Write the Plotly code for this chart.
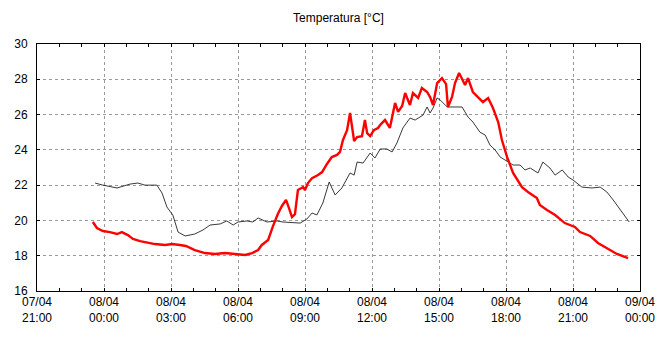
import plotly.graph_objects as go

red_times = ["2024-04-07 23:30", "2024-04-07 23:41", "2024-04-07 23:57", "2024-04-08 00:16", "2024-04-08 00:35",
             "2024-04-08 00:48", "2024-04-08 01:04", "2024-04-08 01:18", "2024-04-08 01:37", "2024-04-08 01:58",
             "2024-04-08 02:17", "2024-04-08 02:44", "2024-04-08 03:03", "2024-04-08 03:24", "2024-04-08 03:40",
             "2024-04-08 04:04", "2024-04-08 04:31", "2024-04-08 04:58", "2024-04-08 05:25", "2024-04-08 05:52",
             "2024-04-08 06:19", "2024-04-08 06:38", "2024-04-08 06:54", "2024-04-08 07:04", "2024-04-08 07:21",
             "2024-04-08 07:34", "2024-04-08 07:47", "2024-04-08 07:58", "2024-04-08 08:09", "2024-04-08 08:17",
             "2024-04-08 08:25", "2024-04-08 08:33", "2024-04-08 08:41", "2024-04-08 08:55", "2024-04-08 09:00",
             "2024-04-08 09:08", "2024-04-08 09:19", "2024-04-08 09:35", "2024-04-08 09:46", "2024-04-08 09:59",
             "2024-04-08 10:12", "2024-04-08 10:26", "2024-04-08 10:34", "2024-04-08 10:42", "2024-04-08 10:53",
             "2024-04-08 11:01", "2024-04-08 11:06", "2024-04-08 11:12", "2024-04-08 11:20", "2024-04-08 11:33",
             "2024-04-08 11:41", "2024-04-08 11:47", "2024-04-08 11:55", "2024-04-08 12:05", "2024-04-08 12:16",
             "2024-04-08 12:24", "2024-04-08 12:35", "2024-04-08 12:48", "2024-04-08 13:02", "2024-04-08 13:10",
             "2024-04-08 13:21", "2024-04-08 13:29", "2024-04-08 13:42", "2024-04-08 13:50", "2024-04-08 14:04",
             "2024-04-08 14:14", "2024-04-08 14:28", "2024-04-08 14:36", "2024-04-08 14:44", "2024-04-08 14:55",
             "2024-04-08 15:08", "2024-04-08 15:19", "2024-04-08 15:24", "2024-04-08 15:35", "2024-04-08 15:43",
             "2024-04-08 15:54", "2024-04-08 16:10", "2024-04-08 16:18", "2024-04-08 16:31", "2024-04-08 16:45",
             "2024-04-08 16:58", "2024-04-08 17:12", "2024-04-08 17:25", "2024-04-08 17:39", "2024-04-08 17:49",
             "2024-04-08 18:03", "2024-04-08 18:19", "2024-04-08 18:43", "2024-04-08 18:59", "2024-04-08 19:23",
             "2024-04-08 19:31", "2024-04-08 19:50", "2024-04-08 20:12", "2024-04-08 20:38", "2024-04-08 21:05",
             "2024-04-08 21:19", "2024-04-08 21:46", "2024-04-08 22:07", "2024-04-08 22:31", "2024-04-08 22:58",
             "2024-04-08 23:28"]
red_values = [19.91, 19.57, 19.40, 19.34, 19.23, 19.34, 19.17, 18.95, 18.83, 18.72,
              18.66, 18.61, 18.66, 18.61, 18.55, 18.32, 18.15, 18.10, 18.15, 18.10,
              18.04, 18.15, 18.32, 18.61, 18.89, 19.68, 20.36, 20.82, 21.16, 20.70,
              20.19, 20.36, 21.72, 21.89, 21.72, 22.12, 22.40, 22.57, 22.74, 23.20,
              23.59, 23.71, 23.88, 24.56, 25.12, 26.09, 25.24, 24.50, 24.73, 24.78,
              25.69, 24.95, 24.78, 25.12, 25.24, 25.46, 25.69, 25.24, 26.66, 26.15,
              26.49, 27.22, 26.54, 27.22, 26.94, 27.51, 27.28, 26.99, 26.54, 27.79,
              28.07, 27.73, 26.43, 27.00, 27.79, 28.36, 27.68, 28.07, 27.28, 27.00,
              26.71, 26.94, 26.37, 25.58, 24.56, 23.59, 22.69, 21.89, 21.61, 21.27,
              20.87, 20.59, 20.31, 19.85, 19.63, 19.34, 19.12, 18.72, 18.44, 18.10,
              17.87]

black_times = ["2024-04-07 23:36", "2024-04-07 23:57", "2024-04-08 00:35", "2024-04-08 01:10", "2024-04-08 01:31",
               "2024-04-08 01:50", "2024-04-08 02:22", "2024-04-08 02:36", "2024-04-08 02:49", "2024-04-08 03:05",
               "2024-04-08 03:19", "2024-04-08 03:38", "2024-04-08 04:04", "2024-04-08 04:26", "2024-04-08 04:45",
               "2024-04-08 05:12", "2024-04-08 05:30", "2024-04-08 05:47", "2024-04-08 06:00", "2024-04-08 06:24",
               "2024-04-08 06:40", "2024-04-08 06:54", "2024-04-08 07:18", "2024-04-08 07:45", "2024-04-08 08:01",
               "2024-04-08 08:47", "2024-04-08 09:05", "2024-04-08 09:19", "2024-04-08 09:32", "2024-04-08 09:48",
               "2024-04-08 10:05", "2024-04-08 10:21", "2024-04-08 10:39", "2024-04-08 11:01", "2024-04-08 11:12",
               "2024-04-08 11:20", "2024-04-08 11:36", "2024-04-08 11:55", "2024-04-08 12:08", "2024-04-08 12:22",
               "2024-04-08 12:40", "2024-04-08 12:54", "2024-04-08 13:07", "2024-04-08 13:23", "2024-04-08 13:42",
               "2024-04-08 13:56", "2024-04-08 14:17", "2024-04-08 14:28", "2024-04-08 14:36", "2024-04-08 14:44",
               "2024-04-08 14:55", "2024-04-08 15:03", "2024-04-08 15:22", "2024-04-08 15:43", "2024-04-08 16:02",
               "2024-04-08 16:18", "2024-04-08 16:31", "2024-04-08 16:50", "2024-04-08 17:04", "2024-04-08 17:17",
               "2024-04-08 17:31", "2024-04-08 17:44", "2024-04-08 18:05", "2024-04-08 18:19", "2024-04-08 18:38",
               "2024-04-08 18:51", "2024-04-08 19:05", "2024-04-08 19:26", "2024-04-08 19:39", "2024-04-08 19:58",
               "2024-04-08 20:12", "2024-04-08 20:31", "2024-04-08 20:47", "2024-04-08 21:00", "2024-04-08 21:24",
               "2024-04-08 21:51", "2024-04-08 22:13", "2024-04-08 22:31", "2024-04-08 22:48", "2024-04-08 23:12",
               "2024-04-08 23:31"]
black_values = [22.12, 22.00, 21.84, 22.06, 22.12, 22.00, 22.00, 21.55, 20.76, 20.30,
                19.34, 19.12, 19.23, 19.46, 19.74, 19.80, 19.97, 19.74, 19.91, 19.97,
                19.91, 20.14, 19.91, 19.97, 19.91, 19.85, 20.08, 20.42, 20.31, 20.99,
                22.18, 21.44, 21.84, 22.69, 22.57, 23.31, 23.25, 23.82, 23.54, 24.05,
                24.05, 23.88, 24.39, 25.24, 25.80, 25.69, 25.97, 26.43, 26.09, 26.37,
                26.94, 26.83, 26.43, 26.43, 26.43, 25.86, 25.58, 25.00, 24.84, 24.27,
                23.99, 23.60, 23.31, 23.14, 23.14, 22.86, 22.97, 22.69, 23.31, 22.97,
                22.57, 22.86, 22.46, 22.29, 21.89, 21.84, 21.89, 21.61, 21.16, 20.48,
                19.91]

tick_vals = ["2024-04-07 21:00", "2024-04-08 00:00", "2024-04-08 03:00", "2024-04-08 06:00", "2024-04-08 09:00",
             "2024-04-08 12:00", "2024-04-08 15:00", "2024-04-08 18:00", "2024-04-08 21:00", "2024-04-09 00:00"]
tick_labels = ["07/04<br>21:00", "08/04<br>00:00", "08/04<br>03:00", "08/04<br>06:00", "08/04<br>09:00",
               "08/04<br>12:00", "08/04<br>15:00", "08/04<br>18:00", "08/04<br>21:00", "09/04<br>00:00"]
y_ticks = [16, 18, 20, 22, 24, 26, 28, 30]
title_text = "Temperatura [°C]"

fig = go.Figure()
fig.add_trace(go.Scatter(x=black_times, y=black_values, mode="lines",
                         line=dict(color="#222222", width=0.9), showlegend=False))
fig.add_trace(go.Scatter(x=red_times, y=red_values, mode="lines",
                         line=dict(color="#ff0000", width=2.4), showlegend=False))

font_family = "Liberation Sans, Arial, sans-serif"
fig.update_layout(
    width=665, height=355,
    margin=dict(l=37, r=25, t=44, b=64, autoexpand=False),
    paper_bgcolor="white", plot_bgcolor="white",
    font=dict(family=font_family, size=12, color="black"),
    title=dict(text=title_text, x=0.509, xanchor="center", xref="container",
               y=0.949, yanchor="middle", yref="container",
               font=dict(family=font_family, size=12, color="black")),
)
fig.update_xaxes(
    type="date", automargin=False,
    range=["2024-04-07 21:00", "2024-04-09 00:00"],
    tickvals=tick_vals, ticktext=tick_labels,
    showline=True, linecolor="black", linewidth=1, mirror="ticks",
    ticks="inside", ticklen=3, tickcolor="black",
    showgrid=True, gridcolor="#999999", griddash="dot", gridwidth=1,
    minor=dict(dtick=3600000, ticks="inside", ticklen=3, tickcolor="black", showgrid=False),
    tickfont=dict(size=12), zeroline=False, fixedrange=True,
)
fig.update_yaxes(
    range=[16, 30], tickvals=y_ticks, automargin=False,
    showline=True, linecolor="black", linewidth=1, mirror="ticks",
    ticks="inside", ticklen=3, tickcolor="black",
    showgrid=True, gridcolor="#999999", griddash="dot", gridwidth=1,
    tickfont=dict(size=12), zeroline=False, ticklabelstandoff=6, fixedrange=True,
)

fig.write_html("out.html", config={"displayModeBar": False, "staticPlot": True},
               post_script="document.body.style.margin='0';document.body.style.overflow='hidden';")
